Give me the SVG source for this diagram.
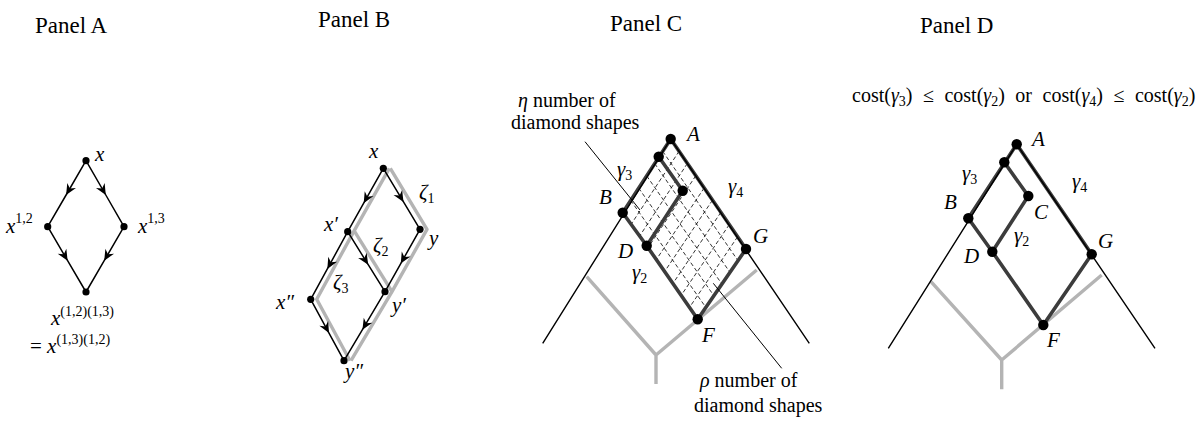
<svg xmlns="http://www.w3.org/2000/svg" width="1202" height="424" viewBox="0 0 1202 424">
<style>
text{font-family:"Liberation Serif","DejaVu Serif",serif;fill:#000}
.i{font-style:italic}
.title{font-size:23px}
.m{font-size:21px}
.s{font-size:14px}
.note{font-size:20px}
.edge{stroke:#000;stroke-width:1.5;fill:none}
.cone{stroke:#000;stroke-width:1.4;fill:none}
.thick{stroke:#3c3c3c;stroke-width:3.6;fill:none;stroke-linejoin:round;stroke-linecap:round}
.gray{stroke:#b4b4b4;stroke-width:3.4;fill:none;stroke-linejoin:round}
.dash{stroke:#000;stroke-width:0.8;stroke-dasharray:4 2.5;fill:none}
.ptr{stroke:#000;stroke-width:1;fill:none}
.dot{fill:#000}
</style>
<defs>
<marker id="arr" viewBox="-12 -6 13 12" markerWidth="13" markerHeight="12" refX="0" refY="0" orient="auto" markerUnits="userSpaceOnUse">
<path d="M0,0 L-11,-5 L-7.5,0 L-11,5 Z" fill="#000"/>
</marker>
</defs>

<g id="titles">
<text class="title" x="35" y="33">Panel A</text>
<text class="title" x="318" y="27">Panel B</text>
<text class="title" x="610" y="31">Panel C</text>
<text class="title" x="920" y="33">Panel D</text>
</g>

<!-- Panel A -->
<g id="panelA-connectors">
<path class="edge" marker-mid="url(#arr)" d="M86,160.7 L66.1,195 L47.7,226.7"/>
<path class="edge" marker-mid="url(#arr)" d="M86,160.7 L105.8,195 L124,226.7"/>
<path class="edge" marker-mid="url(#arr)" d="M47.7,226.7 L67.6,260.7 L86,292"/>
<path class="edge" marker-mid="url(#arr)" d="M124,226.7 L104.2,260.7 L86,292"/>
</g>
<g id="A-x"><circle class="dot" cx="86" cy="160.7" r="3.6"/><text class="m i" x="95" y="161">x</text></g>
<g id="A-x12"><circle class="dot" cx="47.7" cy="226.7" r="3.6"/><text class="m" x="6" y="233"><tspan class="i">x</tspan><tspan class="s" dy="-10">1,2</tspan></text></g>
<g id="A-x13"><circle class="dot" cx="124" cy="226.7" r="3.6"/><text class="m" x="138" y="233"><tspan class="i">x</tspan><tspan class="s" dy="-10">1,3</tspan></text></g>
<g id="A-bottom"><circle class="dot" cx="86" cy="292" r="3.6"/>
<text class="m" x="51" y="325"><tspan class="i">x</tspan><tspan class="s" dy="-9">(1,2)(1,3)</tspan></text>
<text class="m" x="30" y="353">= <tspan class="i">x</tspan><tspan class="s" dy="-9">(1,3)(1,2)</tspan></text>
</g>

<!-- Panel B -->
<g id="panelB-connectors">
<path class="gray" d="M390.3,168.3 L427,229.3 L392,291.7 L351,360.7"/>
<path class="gray" d="M354.7,231.7 L392,291.7"/>
<path class="gray" d="M389.3,168.3 L353.7,231.7 L316.7,299.3 L350,360.7"/>
<path class="edge" marker-mid="url(#arr)" d="M383.3,168.3 L403.5,201.9 L420,229.3"/>
<path class="edge" marker-mid="url(#arr)" d="M383.3,168.3 L363.7,203.2 L347.7,231.7"/>
<path class="edge" marker-mid="url(#arr)" d="M420,229.3 L400.75,263.6 L385,291.7"/>
<path class="edge" marker-mid="url(#arr)" d="M347.7,231.7 L368.2,264.7 L385,291.7"/>
<path class="edge" marker-mid="url(#arr)" d="M347.7,231.7 L327.35,268.9 L310.7,299.3"/>
<path class="edge" marker-mid="url(#arr)" d="M310.7,299.3 L329,333.1 L344,360.7"/>
<path class="edge" marker-mid="url(#arr)" d="M385,291.7 L362.45,329.65 L344,360.7"/>
</g>
<g id="B-labels">
<text class="m" x="419" y="199"><tspan class="i">ζ</tspan><tspan class="s" dy="4">1</tspan></text>
<text class="m" x="373" y="252"><tspan class="i">ζ</tspan><tspan class="s" dy="4">2</tspan></text>
<text class="m" x="333" y="289"><tspan class="i">ζ</tspan><tspan class="s" dy="4">3</tspan></text>
</g>
<g id="B-x"><circle class="dot" cx="383.3" cy="168.3" r="3.6"/><text class="m i" x="369" y="158">x</text></g>
<g id="B-y"><circle class="dot" cx="420" cy="229.3" r="3.6"/><text class="m i" x="429" y="245">y</text></g>
<g id="B-x1"><circle class="dot" cx="347.7" cy="231.7" r="3.6"/><text class="m i" x="324" y="231">x′</text></g>
<g id="B-y1"><circle class="dot" cx="385" cy="291.7" r="3.6"/><text class="m i" x="392" y="312">y′</text></g>
<g id="B-x2"><circle class="dot" cx="310.7" cy="299.3" r="3.6"/><text class="m i" x="276" y="309">x″</text></g>
<g id="B-y2"><circle class="dot" cx="344" cy="360.7" r="3.6"/><text class="m i" x="345" y="378">y″</text></g>

<!-- Panel C -->
<g id="panelC-connectors">
<path class="gray" d="M586.7,276.7 L656,355 L756.7,270 M656,355 L656,384"/>
<path class="dash" d="M662.7,151.3 L738,260.7 M654.7,163.6 L730,272.4 M646.7,175.9 L722,284.2 M638.7,188.1 L714,295.9 M630.7,200.4 L706,307.6 M679.1,151.2 L631,224.5 M687.4,163.4 L639.4,236.4 M695.8,175.7 L647.7,248.2 M704.2,187.9 L656,260.1 M712.5,200.1 L664.4,271.9 M720.9,212.3 L672.7,283.8 M729.3,224.6 L681,295.6 M737.6,236.8 L689.4,307.5"/>
<path class="thick" d="M670.7,139 L622.7,212.7 M670.7,139 L746,249 M622.7,212.7 L646.7,245.7 L697.7,319.3 L746,249 M658.7,156.7 L682.7,190.7 L646.7,245.7"/>
<path class="cone" d="M542.7,343.3 L670.7,139 L809.3,343.3"/>
<path class="ptr" d="M585,141.7 L640,210 M713.3,283.3 L781.7,368.3"/>
</g>
<g id="C-notes">
<text class="note" x="518" y="107"><tspan class="i">η</tspan> number of</text>
<text class="note" x="511" y="129">diamond shapes</text>
<text class="note" x="700" y="387"><tspan class="i">ρ</tspan> number of</text>
<text class="note" x="694" y="412">diamond shapes</text>
<text class="m" x="617" y="176"><tspan class="i">γ</tspan><tspan class="s" dy="4">3</tspan></text>
<text class="m" x="728" y="193"><tspan class="i">γ</tspan><tspan class="s" dy="4">4</tspan></text>
<text class="m" x="632" y="279"><tspan class="i">γ</tspan><tspan class="s" dy="4">2</tspan></text>
</g>
<g id="C-A"><circle class="dot" cx="670.7" cy="139" r="5.2"/><text class="m i" x="687" y="141">A</text></g>
<g id="C-n1"><circle class="dot" cx="658.7" cy="156.7" r="5.2"/></g>
<g id="C-n2"><circle class="dot" cx="682.7" cy="190.7" r="5.2"/></g>
<g id="C-B"><circle class="dot" cx="622.7" cy="212.7" r="5.2"/><text class="m i" x="599" y="204">B</text></g>
<g id="C-D"><circle class="dot" cx="646.7" cy="245.7" r="5.2"/><text class="m i" x="618" y="258">D</text></g>
<g id="C-G"><circle class="dot" cx="746" cy="249" r="5.2"/><text class="m i" x="753" y="243">G</text></g>
<g id="C-F"><circle class="dot" cx="697.7" cy="319.3" r="5.2"/><text class="m i" x="702" y="342">F</text></g>

<!-- Panel D -->
<text x="852" y="102" font-size="20" word-spacing="5.5">cost(<tspan class="i">γ</tspan><tspan font-size="14" dy="4">3</tspan><tspan dy="-4">) ≤ cost(</tspan><tspan class="i">γ</tspan><tspan font-size="14" dy="4">2</tspan><tspan dy="-4">) or cost(</tspan><tspan class="i">γ</tspan><tspan font-size="14" dy="4">4</tspan><tspan dy="-4">) ≤ cost(</tspan><tspan class="i">γ</tspan><tspan font-size="14" dy="4">2</tspan><tspan dy="-4">)</tspan></text>
<g id="panelD-connectors">
<path class="gray" d="M931,281.7 L1001.7,360 L1101.7,275 M1001.7,360 L1001.7,389.3"/>
<path class="thick" d="M1016.7,144.3 L968.3,218.3 M1016.7,144.3 L1091.7,254.3 M968.3,218.3 L992.3,251.7 L1043.3,325 L1091.7,254.3 M1004.3,162.3 L1028.3,196 L992.3,251.7"/>
<path class="cone" d="M888.3,348.3 L1016.7,144.3 L1155,348.3"/>
</g>
<g id="D-labels">
<text class="m" x="962" y="180"><tspan class="i">γ</tspan><tspan class="s" dy="4">3</tspan></text>
<text class="m" x="1014" y="242"><tspan class="i">γ</tspan><tspan class="s" dy="4">2</tspan></text>
<text class="m" x="1072" y="188"><tspan class="i">γ</tspan><tspan class="s" dy="4">4</tspan></text>
</g>
<g id="D-A"><circle class="dot" cx="1016.7" cy="144.3" r="5.2"/><text class="m i" x="1032" y="146">A</text></g>
<g id="D-n1"><circle class="dot" cx="1004.3" cy="162.3" r="5.2"/></g>
<g id="D-C"><circle class="dot" cx="1028.3" cy="196" r="5.2"/><text class="m i" x="1034" y="219">C</text></g>
<g id="D-B"><circle class="dot" cx="968.3" cy="218.3" r="5.2"/><text class="m i" x="944" y="209">B</text></g>
<g id="D-D"><circle class="dot" cx="992.3" cy="251.7" r="5.2"/><text class="m i" x="964" y="263">D</text></g>
<g id="D-G"><circle class="dot" cx="1091.7" cy="254.3" r="5.2"/><text class="m i" x="1098" y="248">G</text></g>
<g id="D-F"><circle class="dot" cx="1043.3" cy="325" r="5.2"/><text class="m i" x="1047" y="347">F</text></g>
</svg>
